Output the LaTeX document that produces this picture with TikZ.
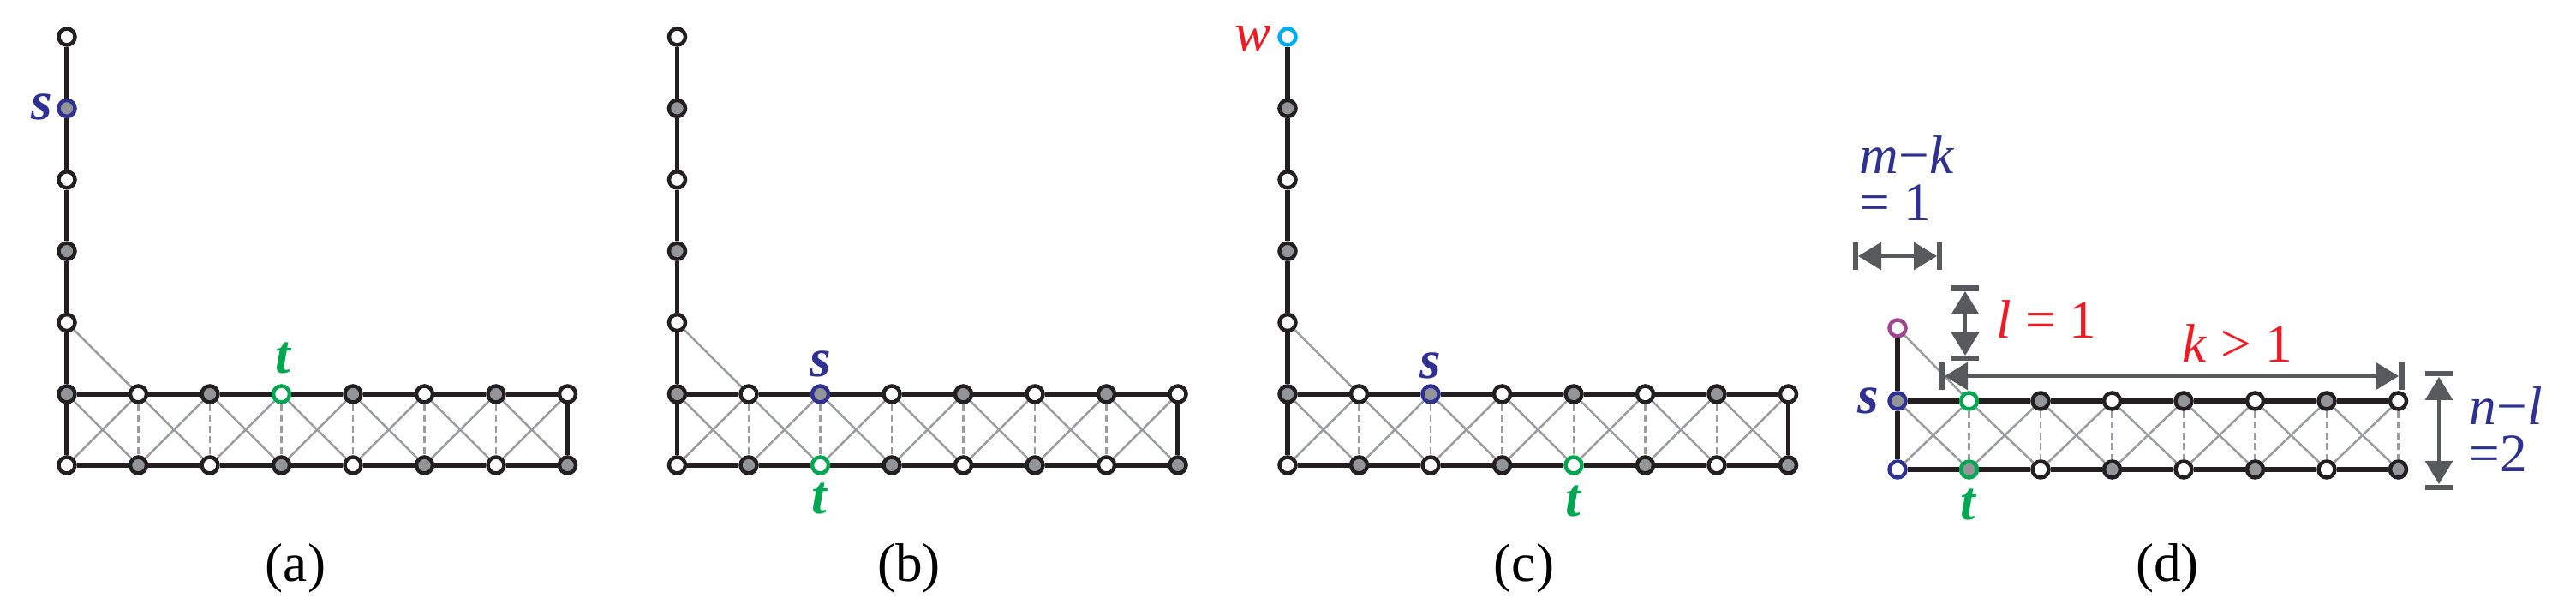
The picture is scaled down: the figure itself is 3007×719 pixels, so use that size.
\documentclass[tikz,border=0pt]{standalone}
\usepackage{fontspec}
\setmainfont{Liberation Serif}
\usetikzlibrary{arrows.meta}
\definecolor{inkblack}{HTML}{231F20}
\definecolor{nodegrey}{HTML}{939598}
\definecolor{linegrey}{HTML}{9A9C9F}
\definecolor{sblue}{HTML}{2E3192}
\definecolor{tgreen}{HTML}{00A651}
\definecolor{wred}{HTML}{ED1C24}
\definecolor{wcyan}{HTML}{00AEEF}
\definecolor{upurple}{HTML}{A0468F}
\definecolor{dimgrey}{HTML}{58595B}
\pgfdeclarelayer{edges}
\pgfsetlayers{edges,main}
% ladder: #1 prefix, #2 x of col0, #3 y top row, #4 y bottom row, #5 top styles, #6 bottom styles, #7 last rung style
\newcommand\ladder[7]{%
  \foreach \st [count=\i from 0] in {#5} {\node[\st] (#1t\i) at ({#2+\i*83.5},#3) {};}
  \foreach \st [count=\i from 0] in {#6} {\node[\st] (#1b\i) at ({#2+\i*83.5},#4) {};}
  \begin{pgfonlayer}{edges}
  \foreach \i in {0,...,6} {%
    \pgfmathtruncatemacro\j{\i+1}
    \draw[crossedge] (#1t\i) -- (#1b\j);
    \draw[crossedge] (#1b\i) -- (#1t\j);
    \draw[thickedge] (#1t\i) -- (#1t\j);
    \draw[thickedge] (#1b\i) -- (#1b\j);
  }
  \foreach \i in {1,...,6} {\draw[rungedge] (#1t\i) -- (#1b\i);}
  \draw[thickedge] (#1t0) -- (#1b0);
  \draw[#7] (#1t7) -- (#1b7);
  \end{pgfonlayer}
}
% column of five nodes above the ladder: #1 prefix, #2 x, #3 styles
\newcommand\upcolumn[3]{%
  \foreach \st [count=\i from 1] in {#3} {\node[\st] (#1v\i) at (#2,{43+(\i-1)*83.4}) {};}
  \begin{pgfonlayer}{edges}
  \foreach \i in {1,...,4} {\pgfmathtruncatemacro\j{\i+1}\draw[thickedge] (#1v\i) -- (#1v\j);}
  \draw[thickedge] (#1v5) -- (#1t0);
  \draw[crossedge] (#1v5) -- (#1t1);
  \end{pgfonlayer}
}
\begin{document}
\begin{tikzpicture}[x=0.1mm,y=-0.1mm,
  vtx/.style={circle,inner sep=0pt,minimum size=1.9mm,line width=0.45mm},
  wn/.style={vtx,draw=inkblack,fill=white},
  gn/.style={vtx,draw=inkblack,fill=nodegrey},
  sn/.style={vtx,draw=sblue,fill=nodegrey},
  swn/.style={vtx,draw=sblue,fill=white},
  tn/.style={vtx,draw=tgreen,fill=white},
  tgn/.style={vtx,draw=tgreen,fill=nodegrey},
  wcn/.style={vtx,draw=wcyan,fill=white},
  pn/.style={vtx,draw=upurple,fill=white},
  thickedge/.style={draw=inkblack,line width=0.55mm},
  crossedge/.style={draw=linegrey,line width=0.25mm},
  rungedge/.style={draw=linegrey,line width=0.25mm,dash pattern=on 0.8mm off 0.45mm},
  lbl/.style={inner sep=0pt,font=\fontsize{18}{20}\selectfont},
  twoline/.style={inner sep=0pt,align=left,anchor=south west,font=\fontsize{18}{15.5}\selectfont},
  dimline/.style={draw=dimgrey,line width=0.33mm,
    {Triangle[length=2.7mm,width=3.2mm]}-{Triangle[length=2.7mm,width=3.2mm]}},
  dimbar/.style={draw=dimgrey,line width=0.65mm}
]
\useasboundingbox (0,0) rectangle (3007,719);

% ---------- (a) ----------
\ladder{a}{78}{460}{543}{gn,wn,gn,tn,gn,wn,gn,wn}{wn,gn,wn,gn,wn,gn,wn,gn}{thickedge}
\upcolumn{a}{78}{wn,sn,wn,gn,wn}
\node[lbl,text=sblue,anchor=base east] (as) at (62,140) {\textbf{\textit{s}}};
\node[lbl,text=tgreen,anchor=base] (at) at (331,436) {\textbf{\textit{t}}};
\node[lbl,anchor=base] (capa) at (345,679) {(a)};

% ---------- (b) ----------
\ladder{b}{790.5}{460}{543}{gn,wn,sn,wn,gn,wn,gn,wn}{wn,gn,tn,gn,wn,gn,wn,gn}{thickedge}
\upcolumn{b}{790.5}{wn,gn,wn,gn,wn}
\node[lbl,text=sblue,anchor=base] (bs) at (957.5,440) {\textbf{\textit{s}}};
\node[lbl,text=tgreen,anchor=base] (bt) at (957.5,600) {\textbf{\textit{t}}};
\node[lbl,anchor=base] (capb) at (1061,679) {(b)};

% ---------- (c) ----------
\ladder{c}{1503}{460}{543}{gn,wn,sn,wn,gn,wn,gn,wn}{wn,gn,wn,gn,tn,gn,wn,gn}{thickedge}
\upcolumn{c}{1503}{wcn,gn,wn,gn,wn}
\node[lbl,text=wred,anchor=base east] (cw) at (1484,60) {\textit{w}};
\node[lbl,text=sblue,anchor=base] (cs) at (1670,442) {\textbf{\textit{s}}};
\node[lbl,text=tgreen,anchor=base] (ct) at (1837,603) {\textbf{\textit{t}}};
\node[lbl,anchor=base] (capc) at (1779,679) {(c)};

% ---------- (d) ----------
\ladder{d}{2215}{468}{548}{sn,tn,gn,wn,gn,wn,gn,wn}{swn,tgn,wn,gn,wn,gn,wn,gn}{rungedge}
\node[pn] (dp) at (2215,383) {};
\begin{pgfonlayer}{edges}
\draw[thickedge] (dp) -- (dt0);
\draw[crossedge] (dp) -- (dt1);
\end{pgfonlayer}
\node[lbl,text=sblue,anchor=base east] (ds) at (2194,483) {\textbf{\textit{s}}};
\node[lbl,text=tgreen,anchor=base] (dtl) at (2298.5,607) {\textbf{\textit{t}}};
\node[lbl,anchor=base] (capd) at (2530,679) {(d)};

% dimension: m-k
\coordinate (mkL) at (2169,299);
\coordinate (mkR) at (2261,299);
\draw[dimline] (mkL) -- (mkR);
\draw[dimbar] (2166,283) -- (2166,315);
\draw[dimbar] (2264,283) -- (2264,315);
\node[twoline,text=sblue] (mk) at (2170,258) {\textit{m}−\textit{k}\\= 1};

% dimension: l
\coordinate (lT) at (2294,340);
\coordinate (lB) at (2294,415);
\draw[dimline] (lT) -- (lB);
\draw[dimbar] (2278,336.5) -- (2310,336.5);
\draw[dimbar] (2278,418) -- (2310,418);
\node[lbl,text=wred,anchor=base west] (l1) at (2330,395) {\textit{l} = 1};

% dimension: k
\coordinate (kL) at (2270,439);
\coordinate (kR) at (2800,439);
\draw[dimline] (kL) -- (kR);
\draw[dimbar] (2266.5,423) -- (2266.5,455);
\draw[dimbar] (2803.5,423) -- (2803.5,455);
\node[lbl,text=wred,anchor=base west] (k1) at (2547,423) {\textit{k} > 1};

% dimension: n-l
\coordinate (nT) at (2847,440);
\coordinate (nB) at (2847,565);
\draw[dimline] (nT) -- (nB);
\draw[dimbar] (2831,436) -- (2864,436);
\draw[dimbar] (2831,569) -- (2864,569);
\node[twoline,text=sblue] (nl) at (2882,551) {\textit{n}−\textit{l}\\=2};
\end{tikzpicture}
\end{document}
